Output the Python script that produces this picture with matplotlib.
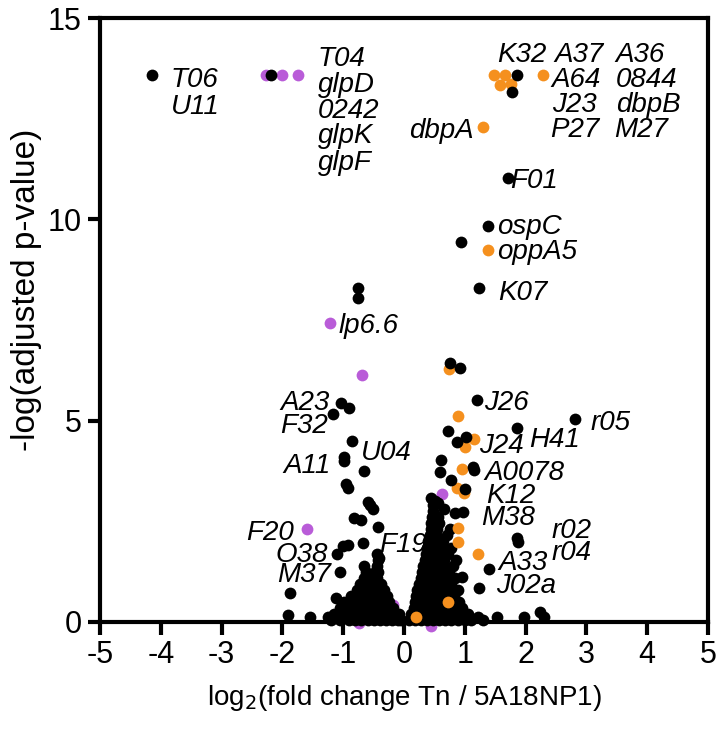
import matplotlib
matplotlib.use("Agg")
import matplotlib.pyplot as plt

plt.rcParams['font.family'] = ['Liberation Sans', 'DejaVu Sans']
plt.rcParams['axes.unicode_minus'] = False

BLACK = '#000000'
ORANGE = '#F5901E'
PURPLE = '#B95CD8'

# isolated black points (log2 FC, -log p)
black_x = [-4.15, -2.18, 1.86, 1.78, 1.71, 1.38, 0.94, 1.24, -0.76, -0.76,
           0.76, 0.92, -1.04, -0.91, -1.17, 1.20, 1.86, 2.82, 0.72, 0.87,
           1.02, -0.86, -0.99, -0.99, -0.66, 0.61, 0.59, 1.14, 1.15, 0.77,
           -0.96, -0.92, 1.00, -0.59, -0.56, -0.51, 0.51, 0.66, 0.84, 0.97,
           -0.82, -0.71, -0.43, 1.85, 1.88, -1.00, -0.92, -1.10, -1.05, -1.88,
           -1.91, -1.55, -1.25, -1.12, 1.40, 1.24, 0.96, 1.53, 1.98, 2.24,
           2.30, 0.99, 1.22, -0.68, -0.41, 0.44, 0.56]
black_y = [13.6, 13.6, 13.6, 13.18, 11.04, 9.85, 9.45, 8.31, 8.29, 8.06,
           6.43, 6.30, 5.43, 5.31, 5.16, 5.51, 4.81, 5.04, 4.74, 4.47,
           4.59, 4.49, 4.10, 3.99, 3.75, 4.02, 3.73, 3.85, 3.77, 3.52,
           3.42, 3.33, 3.30, 2.98, 2.90, 2.80, 3.00, 2.80, 2.70, 2.73,
           2.58, 2.53, 2.36, 2.08, 1.99, 1.89, 1.91, 1.69, 1.24, 0.72,
           0.17, 0.12, 0.12, 0.60, 1.31, 0.84, 1.12, 0.12, 0.12, 0.25,
           0.12, 0.17, 0.12, 1.96, 1.59, 3.08, 2.95]

# dense bulk near the origin, read row by row: -log p -> list of log2 FC
bulk_left = {
    0.05: [-1.2, -1.05, -0.9, -0.8, -0.7, -0.6, -0.5, -0.4, -0.3, -0.2, -0.1, -0.05],
    0.2: [-1.15, -1.0, -0.88, -0.76, -0.64, -0.52, -0.4, -0.28, -0.16, -0.08],
    0.35: [-1.05, -0.9, -0.78, -0.66, -0.54, -0.42, -0.3, -0.18],
    0.5: [-0.98, -0.85, -0.72, -0.6, -0.48, -0.36, -0.24],
    0.65: [-0.88, -0.76, -0.64, -0.52, -0.4, -0.28],
    0.8: [-0.78, -0.68, -0.56, -0.44, -0.33],
    0.95: [-0.72, -0.6, -0.48, -0.38],
    1.1: [-0.66, -0.55, -0.45],
    1.25: [-0.62, -0.48, -0.42],
    1.4: [-0.66, -0.45],
    1.55: [-0.43],
    1.7: [-0.44],
}
bulk_right = {
    0.05: [0.08, 0.18, 0.28, 0.38, 0.48, 0.58, 0.68, 0.78, 0.88, 1.0, 1.1, 1.3],
    0.2: [0.12, 0.22, 0.32, 0.42, 0.52, 0.62, 0.72, 0.82, 0.92, 1.05],
    0.35: [0.16, 0.26, 0.36, 0.46, 0.56, 0.66, 0.76, 0.86, 0.95],
    0.5: [0.18, 0.28, 0.38, 0.48, 0.58, 0.68, 0.78, 0.9],
    0.65: [0.2, 0.3, 0.4, 0.5, 0.6, 0.7, 0.82],
    0.8: [0.22, 0.32, 0.42, 0.52, 0.62, 0.74, 0.88],
    0.95: [0.25, 0.35, 0.45, 0.55, 0.65, 0.78],
    1.1: [0.28, 0.38, 0.48, 0.58, 0.7, 0.84],
    1.25: [0.3, 0.4, 0.5, 0.6, 0.74],
    1.4: [0.32, 0.42, 0.52, 0.64, 0.8],
    1.55: [0.34, 0.44, 0.54, 0.66, 0.86],
    1.7: [0.36, 0.46, 0.56, 0.72],
    1.85: [0.38, 0.48, 0.6, 0.78],
    2.0: [0.4, 0.5, 0.64],
    2.15: [0.42, 0.52, 0.7],
    2.3: [0.44, 0.55, 0.75],
    2.45: [0.44, 0.58],
    2.6: [0.46, 0.56],
    2.75: [0.47],
    2.9: [0.48],
}

orange_x = [1.48, 1.66, 1.58, 1.76, 2.29, 1.30, 1.38, 0.74, 0.89, 1.15,
            1.00, 0.96, 0.87, 0.99, 0.89, 0.89, 1.22, 0.72, 0.20]
orange_y = [13.6, 13.6, 13.35, 13.37, 13.6, 12.31, 9.23, 6.28, 5.11, 4.54,
            4.34, 3.80, 3.32, 3.20, 2.33, 1.99, 1.69, 0.50, 0.12]
orange_hidden_x = [0.56, 0.40, 0.58, 0.77, -0.38]
orange_hidden_y = [0.92, 0.87, 1.59, 0.10, 0.84]

purple_x = [-2.27, -2.00, -1.75, -1.22, -0.69, 0.63, -1.60]
purple_y = [13.6, 13.6, 13.6, 7.42, 6.13, 3.18, 2.31]
purple_hidden_x = [-0.18, 0.64, -0.74, 0.44, -0.55]
purple_hidden_y = [0.42, 1.24, -0.02, -0.10, 0.10]

# gene labels: text, x, baseline y, alignment
labels = [
    ('T06', -3.84, 13.28, 'left'), ('U11', -3.84, 12.63, 'left'),
    ('T04', -1.42, 13.82, 'left'), ('glpD', -1.42, 13.18, 'left'),
    ('0242', -1.42, 12.53, 'left'), ('glpK', -1.42, 11.89, 'left'),
    ('glpF', -1.42, 11.24, 'left'),
    ('K32', 1.53, 13.92, 'left'), ('A37', 2.47, 13.92, 'left'),
    ('A36', 3.48, 13.92, 'left'), ('A64', 2.42, 13.30, 'left'),
    ('0844', 3.48, 13.30, 'left'), ('J23', 2.44, 12.68, 'left'),
    ('dbpB', 3.49, 12.68, 'left'), ('P27', 2.41, 12.06, 'left'),
    ('M27', 3.46, 12.06, 'left'),
    ('dbpA', 1.14, 12.03, 'right'), ('F01', 1.75, 10.77, 'left'),
    ('ospC', 1.53, 9.65, 'left'), ('oppA5', 1.53, 9.03, 'left'),
    ('K07', 1.55, 7.99, 'left'), ('lp6.6', -1.07, 7.17, 'left'),
    ('A23', -1.22, 5.26, 'right'), ('F32', -1.25, 4.69, 'right'),
    ('U04', -0.71, 4.02, 'left'), ('A11', -1.20, 3.70, 'right'),
    ('J26', 1.32, 5.26, 'left'), ('J24', 1.24, 4.19, 'left'),
    ('H41', 2.06, 4.34, 'left'), ('r05', 3.06, 4.76, 'left'),
    ('A0078', 1.32, 3.52, 'left'), ('K12', 1.35, 2.95, 'left'),
    ('M38', 1.27, 2.41, 'left'), ('r02', 2.42, 2.08, 'left'),
    ('r04', 2.42, 1.54, 'left'), ('A33', 1.55, 1.29, 'left'),
    ('J02a', 1.52, 0.72, 'left'), ('F19', -0.41, 1.74, 'left'),
    ('F20', -1.81, 2.03, 'right'), ('O38', -1.25, 1.49, 'right'),
    ('M37', -1.20, 0.99, 'right'),
]

fig = plt.figure(figsize=(7.17, 7.30), dpi=100)
ax = fig.add_axes([0.1395, 0.148, 0.848, 0.827])

ms = 72
kw = dict(s=ms, linewidths=0, clip_on=False)
ax.scatter(orange_hidden_x, orange_hidden_y, color=ORANGE, zorder=3, **kw)
ax.scatter(purple_hidden_x, purple_hidden_y, color=PURPLE, zorder=3, **kw)

bx, by = [], []
for bulk in (bulk_left, bulk_right):
    for yv, xs in bulk.items():
        bx += xs
        by += [yv] * len(xs)
ax.scatter(bx, by, color=BLACK, zorder=4, **kw)

ax.scatter(purple_x, purple_y, color=PURPLE, zorder=5, **kw)
ax.scatter(orange_x, orange_y, color=ORANGE, zorder=5, **kw)
ax.scatter(black_x, black_y, color=BLACK, zorder=6, **kw)

for name, lx, ly, ha in labels:
    ax.text(lx, ly, name, ha=ha, va='baseline', fontsize=20, style='italic')

ax.set_xlim(-5, 5)
ax.set_ylim(0, 15)
ax.set_xticks(range(-5, 6))
ax.set_yticks([0, 5, 10, 15])
for sp in ax.spines.values():
    sp.set_linewidth(3)
    sp.set_zorder(3.5)
ax.tick_params(width=3, length=9, labelsize=22, pad=4)

ax.set_xlabel('log$_2$(fold change Tn / 5A18NP1)', fontsize=20, labelpad=9)
ax.set_ylabel('-log(adjusted p-value)', fontsize=24)
ax.yaxis.set_label_coords(-0.095, 0.55)

fig.savefig('out.png', dpi=100)
